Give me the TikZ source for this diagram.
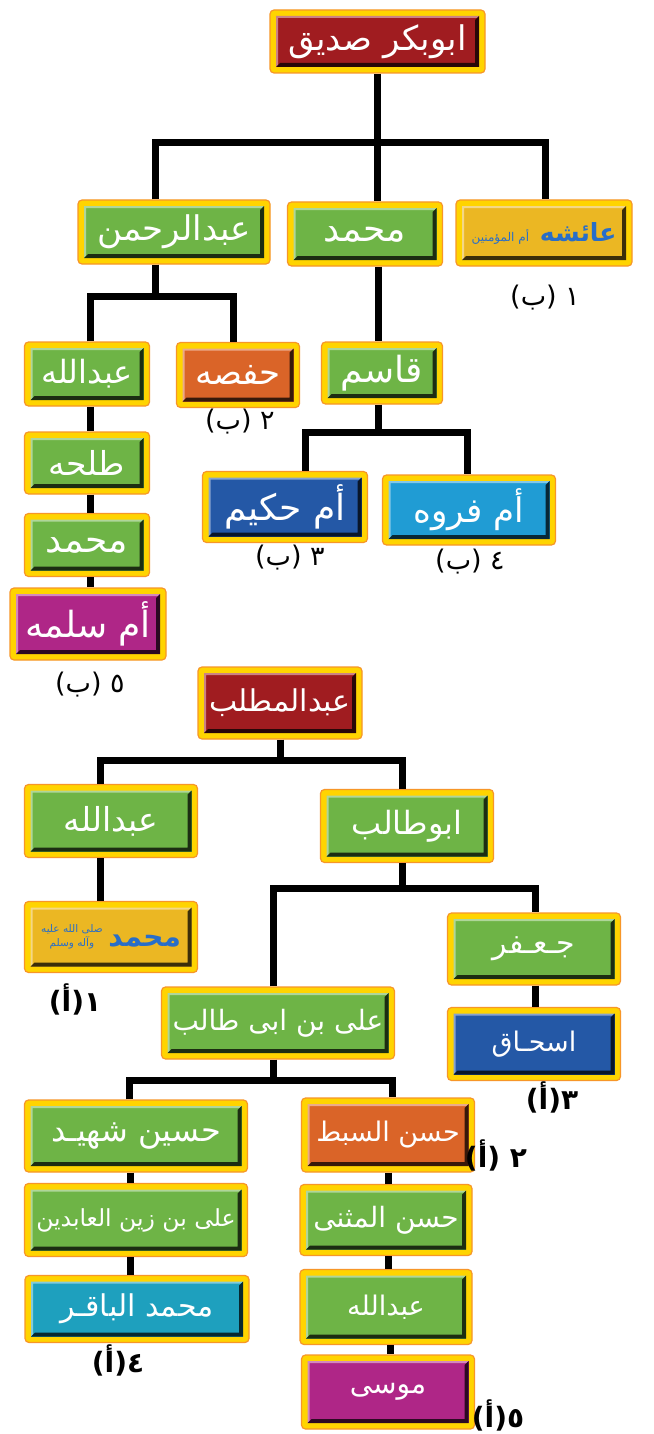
\documentclass[tikz,border=0pt]{standalone}
\usepackage{fontspec}
\TeXXeTstate=1
\newfontfamily\arabicfont[Script=Arabic]{DejaVu Sans}
\newcommand{\artext}[1]{\beginR#1\endR}
\newcommand{\namesize}[1]{\arabicfont\fontsize{#1}{#1}\selectfont}
\definecolor{boxred}{RGB}{160,28,32}
\definecolor{boxgreen}{RGB}{110,180,70}
\definecolor{boxgold}{RGB}{235,183,35}
\definecolor{boxorange}{RGB}{218,100,40}
\definecolor{boxblue}{RGB}{36,88,166}
\definecolor{boxsky}{RGB}{32,156,212}
\definecolor{boxteal}{RGB}{30,160,190}
\definecolor{boxpurple}{RGB}{175,38,135}
\definecolor{frameyellow}{RGB}{255,212,0}
\definecolor{frameorange}{RGB}{247,150,40}
\definecolor{titleblue}{RGB}{40,110,200}
\tikzset{
  famline/.style={line width=7pt},
  famblock/.style={rectangle, rounded corners=4pt, draw=frameorange, line width=1.2pt,
    fill=frameyellow, text=white, font=\namesize{34}, inner sep=0pt,
    path picture={
      \fill[#1, sharp corners] ([shift={(6pt,-6pt)}]path picture bounding box.north west)
        rectangle ([shift={(-6pt,6pt)}]path picture bounding box.south east);
      \fill[#1!55!white, sharp corners] ([shift={(6pt,6pt)}]path picture bounding box.south west)
        -- ([shift={(6pt,-6pt)}]path picture bounding box.north west)
        -- ([shift={(-6pt,-6pt)}]path picture bounding box.north east)
        -- ([shift={(-8pt,-8pt)}]path picture bounding box.north east)
        -- ([shift={(8pt,-8pt)}]path picture bounding box.north west)
        -- ([shift={(8pt,8pt)}]path picture bounding box.south west) -- cycle;
      \fill[#1!25!black, sharp corners] ([shift={(6pt,6pt)}]path picture bounding box.south west)
        -- ([shift={(-6pt,6pt)}]path picture bounding box.south east)
        -- ([shift={(-6pt,-6pt)}]path picture bounding box.north east)
        -- ([shift={(-10pt,-10pt)}]path picture bounding box.north east)
        -- ([shift={(-10pt,10pt)}]path picture bounding box.south east)
        -- ([shift={(10pt,10pt)}]path picture bounding box.south west) -- cycle;
    }},
  famnote/.style={font=\namesize{27}, inner sep=0pt},
  famnotebold/.style={font=\namesize{28}\bfseries, inner sep=0pt},
}
\begin{document}
\begin{tikzpicture}[x=1pt,y=-1pt]
\fill[white] (0,0) rectangle (653,1434);

\node[famblock=boxred, minimum width=215pt, minimum height=63pt] (abubakr) at (377.5,41.5) {\artext{ابوبكر صديق}};
\node[famblock=boxgreen, minimum width=192pt, minimum height=64pt] (abdulrahman) at (174,232) {\artext{عبدالرحمن}};
\node[famblock=boxgreen, minimum width=155pt, minimum height=64pt, font=\namesize{36}] (mohammedA) at (365,234) {\artext{محمد}};
\node[famblock=boxgold, minimum width=176pt, minimum height=66pt, text=titleblue] (aisha) at (544,233)
  {\artext{{\namesize{25}\bfseries عائشه} {\namesize{12}أم المؤمنين}}};
\node[famblock=boxgreen, minimum width=125pt, minimum height=64pt, font=\namesize{32}] (abdullahA) at (87,374) {\artext{عبدالله}};
\node[famblock=boxorange, minimum width=123pt, minimum height=65pt] (hafsa) at (238,375) {\artext{حفصه}};
\node[famblock=boxgreen, minimum width=121pt, minimum height=62pt, font=\namesize{36}] (qasim) at (382,373) {\artext{قاسم}};
\node[famblock=boxgreen, minimum width=125pt, minimum height=62pt, font=\namesize{33}] (talha) at (87,463) {\artext{طلحه}};
\node[famblock=boxgreen, minimum width=125pt, minimum height=63pt, font=\namesize{36}] (mohammedB) at (87,545) {\artext{محمد}};
\node[famblock=boxpurple, minimum width=156pt, minimum height=72pt, font=\namesize{36}] (umsalama) at (88,624) {\artext{أم سلمه}};
\node[famblock=boxblue, minimum width=165pt, minimum height=71pt, font=\namesize{36}] (umhakim) at (285,507) {\artext{أم حكيم}};
\node[famblock=boxsky, minimum width=173pt, minimum height=70pt] (umfarwa) at (469,510) {\artext{أم فروه}};

\node[famnote] (noteB1) at (545,298) {\artext{١ (ب)}};
\node[famnote] (noteB2) at (240,422) {\artext{٢ (ب)}};
\node[famnote] (noteB3) at (290,558) {\artext{٣ (ب)}};
\node[famnote] (noteB4) at (470,562) {\artext{٤ (ب)}};
\node[famnote] (noteB5) at (90,685) {\artext{٥ (ب)}};

\coordinate (barA) at (377.5,143);
\coordinate (barB) at (155,296);
\coordinate (barC) at (378,432);
\draw[famline] (abubakr.south) -- (abubakr.south |- mohammedA.north);
\draw[famline] (155,0 |- abdulrahman.north) |- (barA) -| (545,0 |- aisha.north);
\draw[famline] (barB |- abdulrahman.south) -- (barB);
\draw[famline] (90,0 |- abdullahA.north) |- (barB) -| (233,0 |- hafsa.north);
\draw[famline] (90,0 |- abdullahA.south) -- (90,0 |- talha.north);
\draw[famline] (90,0 |- talha.south) -- (90,0 |- mohammedB.north);
\draw[famline] (90,0 |- mohammedB.south) -- (90,0 |- umsalama.north);
\draw[famline] (378,0 |- mohammedA.south) -- (378,0 |- qasim.north);
\draw[famline] (barC |- qasim.south) -- (barC);
\draw[famline] (305,0 |- umhakim.north) |- (barC) -| (467,0 |- umfarwa.north);

\node[famblock=boxred, minimum width=164pt, minimum height=72pt, font=\namesize{30}] (abdulmuttalib) at (280,703) {\artext{عبدالمطلب}};
\node[famblock=boxgreen, minimum width=173pt, minimum height=73pt, font=\namesize{33}] (abdullahB) at (111,821) {\artext{عبدالله}};
\node[famblock=boxgreen, minimum width=173pt, minimum height=73pt, font=\namesize{32}] (abutalib) at (407,826) {\artext{ابوطالب}};
\node[famblock=boxgold, minimum width=173pt, minimum height=71pt, text=titleblue] (mohammedC) at (111,937)
  {{\namesize{10.5}\shortstack{\artext{صلى الله عليه}\\\artext{وآله وسلم}}}\,{\namesize{28}\bfseries\artext{محمد}}};
\node[famblock=boxgreen, minimum width=173pt, minimum height=72pt, font=\namesize{30}] (jafar) at (534,949) {\artext{جـعـفر}};
\node[famblock=boxgreen, minimum width=233pt, minimum height=72pt, font=\namesize{28}] (ali) at (278,1023) {\artext{على بن ابى طالب}};
\node[famblock=boxblue, minimum width=173pt, minimum height=73pt, font=\namesize{27}] (ishaq) at (534,1044) {\artext{اسحـاق}};
\node[famblock=boxgreen, minimum width=223pt, minimum height=72pt, font=\namesize{32}] (hussain) at (136,1136) {\artext{حسين شهيـد}};
\node[famblock=boxorange, minimum width=173pt, minimum height=74pt, font=\namesize{27}] (hasan) at (388,1135) {\artext{حسن السبط}};
\node[famblock=boxgreen, minimum width=223pt, minimum height=73pt, font=\namesize{23.5}] (zainulabideen) at (136,1220) {\artext{على بن زين العابدين}};
\node[famblock=boxteal, minimum width=224pt, minimum height=67pt, font=\namesize{30}] (baqir) at (137,1309) {\artext{محمد الباقـر}};
\node[famblock=boxgreen, minimum width=172pt, minimum height=71pt, font=\namesize{28}] (muthanna) at (386,1220) {\artext{حسن المثنى}};
\node[famblock=boxgreen, minimum width=172pt, minimum height=75pt, font=\namesize{27}] (abdullahC) at (386,1307) {\artext{عبدالله}};
\node[famblock=boxpurple, minimum width=173pt, minimum height=74pt, font=\namesize{28}] (musa) at (388,1392) {\artext{موسى}};

\node[famnotebold] (noteA1) at (75,999) {\artext{١(أ)}};
\node[famnotebold] (noteA2) at (496,1155) {\artext{٢ (أ)}};
\node[famnotebold] (noteA3) at (552,1097) {\artext{٣(أ)}};
\node[famnotebold] (noteA4) at (118,1360) {\artext{٤(أ)}};
\node[famnotebold] (noteA5) at (498,1415) {\artext{٥(أ)}};

\coordinate (barD) at (280,760);
\coordinate (barE) at (402,888);
\coordinate (barF) at (273,1080);
\draw[famline] (abdulmuttalib.south) -- (barD);
\draw[famline] (100,0 |- abdullahB.north) |- (barD) -| (402,0 |- abutalib.north);
\draw[famline] (100,0 |- abdullahB.south) -- (100,0 |- mohammedC.north);
\draw[famline] (barE |- abutalib.south) -- (barE);
\draw[famline] (273,0 |- ali.north) |- (barE) -| (535,0 |- jafar.north);
\draw[famline] (535,0 |- jafar.south) -- (535,0 |- ishaq.north);
\draw[famline] (barF |- ali.south) -- (barF);
\draw[famline] (129,0 |- hussain.north) |- (barF) -| (392,0 |- hasan.north);
\draw[famline] (130,0 |- hussain.south) -- (130,0 |- zainulabideen.north);
\draw[famline] (130,0 |- zainulabideen.south) -- (130,0 |- baqir.north);
\draw[famline] (388,0 |- hasan.south) -- (388,0 |- muthanna.north);
\draw[famline] (388,0 |- muthanna.south) -- (388,0 |- abdullahC.north);
\draw[famline] (390,0 |- abdullahC.south) -- (390,0 |- musa.north);
\end{tikzpicture}
\end{document}
